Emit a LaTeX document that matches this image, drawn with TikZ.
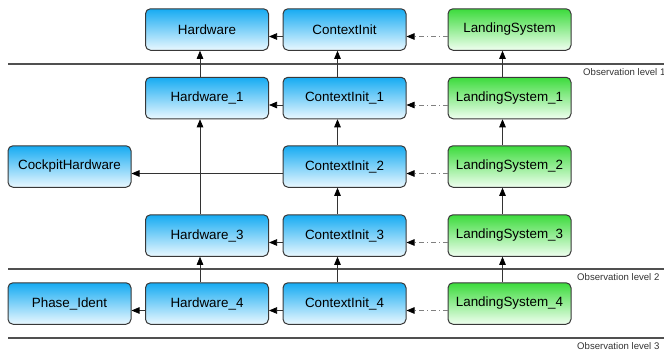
\documentclass[tikz,border=0pt]{standalone}
\usepackage{fontspec}
\setmainfont{Liberation Sans}
\usetikzlibrary{arrows.meta}
\definecolor{bluetop}{HTML}{16ABF2}
\definecolor{bluebot}{HTML}{EAF8FF}
\definecolor{greentop}{HTML}{3CDB3C}
\definecolor{greenbot}{HTML}{F0FFF0}
\definecolor{framegray}{HTML}{383838}
\definecolor{linegray}{HTML}{505050}
\begin{document}
\begin{tikzpicture}[x=1pt,y=-1pt,
  box/.style={draw=framegray, line width=1pt, rounded corners=5pt,
    minimum width=123pt, minimum height=41.5pt, inner sep=0pt,
    font=\fontsize{13.4}{15}\selectfont, anchor=center},
  bluebox/.style={box, top color=bluetop, bottom color=bluebot},
  greenbox/.style={box, top color=greentop, bottom color=greenbot},
  arr/.style={-{Triangle[length=8pt,width=6.5pt,color=black]}, line width=0.7pt, draw=black!80},
  dd/.style={arr, draw=gray, dash pattern=on 5pt off 3pt on 1pt off 3pt},
  lvl/.style={font=\fontsize{9.6}{11}\selectfont, text=black!80, inner sep=0pt, anchor=west},
  sep/.style={draw=linegray, line width=1.2pt}]
\useasboundingbox (0,0) rectangle (664,356);

% separators
\draw[sep] (8,64) -- (664,64);
\draw[sep] (8,269) -- (664,269);
\draw[sep] (8,338) -- (664,338);
\node[lvl] (l1) at (583,72.5) {Observation level 1};
\node[lvl] (l2) at (577,277) {Observation level 2};
\node[lvl] (l3) at (577,346) {Observation level 3};

% row 0
\node[bluebox] (h0) at (207,29.5) {Hardware};
\node[bluebox] (c0) at (344.5,29.5) {ContextInit};
\node[greenbox] (s0) at (509.5,29.5) {LandingSystem};
% row 1
\node[bluebox] (h1) at (207,98) {Hardware\_1};
\node[bluebox] (c1) at (344.5,98) {ContextInit\_1};
\node[greenbox] (s1) at (509.5,98) {LandingSystem\_1};
% row 2
\node[bluebox] (ck) at (69.5,166.5) {CockpitHardware};
\node[bluebox] (c2) at (344.5,166.5) {ContextInit\_2};
\node[greenbox] (s2) at (509.5,166.5) {LandingSystem\_2};
% row 3
\node[bluebox] (h3) at (207,235.5) {Hardware\_3};
\node[bluebox] (c3) at (344.5,235.5) {ContextInit\_3};
\node[greenbox] (s3) at (509.5,235.5) {LandingSystem\_3};
% row 4
\node[bluebox] (ph) at (69.5,303.5) {Phase\_Ident};
\node[bluebox] (h4) at (207,303.5) {Hardware\_4};
\node[bluebox] (c4) at (344.5,303.5) {ContextInit\_4};
\node[greenbox] (s4) at (509.5,303.5) {LandingSystem\_4};

% vertical connectors
\draw[arr] ([xshift=-7pt]h1.north) -- ([xshift=-7pt]h0.south);
\draw[arr] ([xshift=-7pt]h3.north) -- ([xshift=-7pt]h1.south);
\draw[arr] ([xshift=-7pt]h4.north) -- ([xshift=-7pt]h3.south);
\draw[arr] ([xshift=-7pt]c1.north) -- ([xshift=-7pt]c0.south);
\draw[arr] ([xshift=-7pt]c2.north) -- ([xshift=-7pt]c1.south);
\draw[arr] ([xshift=-7pt]c3.north) -- ([xshift=-7pt]c2.south);
\draw[arr] ([xshift=-7pt]c4.north) -- ([xshift=-7pt]c3.south);
\draw[arr] ([xshift=-7pt]s1.north) -- ([xshift=-7pt]s0.south);
\draw[arr] ([xshift=-7pt]s2.north) -- ([xshift=-7pt]s1.south);
\draw[arr] ([xshift=-7pt]s3.north) -- ([xshift=-7pt]s2.south);
\draw[arr] ([xshift=-7pt]s4.north) -- ([xshift=-7pt]s3.south);

% horizontal connectors
\draw[arr] ([yshift=-7pt]c0.west) -- ([yshift=-7pt]h0.east);
\draw[arr] ([yshift=-7pt]c1.west) -- ([yshift=-7pt]h1.east);
\draw[arr] ([yshift=-7pt]c2.west) -- ([yshift=-7pt]ck.east);
\draw[arr] ([yshift=-7pt]c3.west) -- ([yshift=-7pt]h3.east);
\draw[arr] ([yshift=-7pt]c4.west) -- ([yshift=-7pt]h4.east);
\draw[arr] ([yshift=-7pt]h4.west) -- ([yshift=-7pt]ph.east);
\draw[dd] ([yshift=-7pt]s0.west) -- ([yshift=-7pt]c0.east);
\draw[dd] ([yshift=-7pt]s1.west) -- ([yshift=-7pt]c1.east);
\draw[dd] ([yshift=-7pt]s2.west) -- ([yshift=-7pt]c2.east);
\draw[dd] ([yshift=-7pt]s3.west) -- ([yshift=-7pt]c3.east);
\draw[dd] ([yshift=-7pt]s4.west) -- ([yshift=-7pt]c4.east);
\end{tikzpicture}
\end{document}
